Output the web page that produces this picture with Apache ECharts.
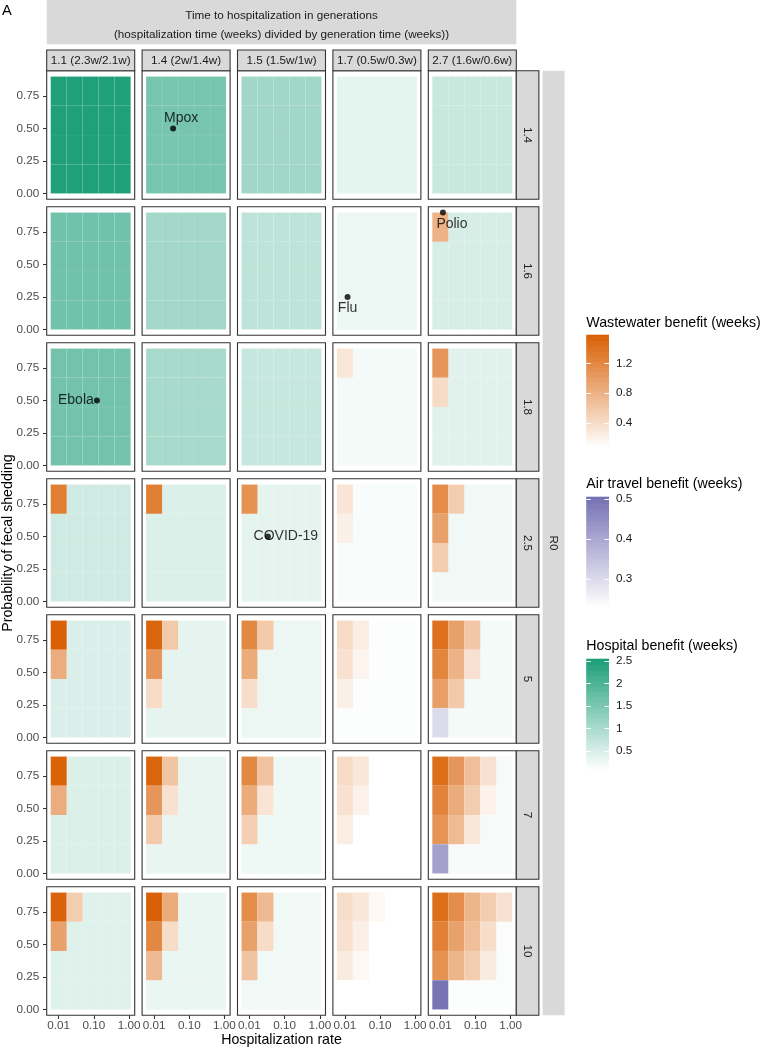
<!DOCTYPE html>
<html><head><meta charset="utf-8">
<script src="https://cdn.jsdelivr.net/npm/echarts@6/dist/echarts.min.js"></script>
<style>html,body{margin:0;padding:0;background:#fff}#c{width:762px;height:1050px}</style>
</head><body><div id="c"></div><script>
// ---------------- data ----------------
const hospRates = [0.01, 0.0285, 0.0812, 0.231, 0.658];     // x tile centres (hospitalization rate)
const shedProbs = [0.1125, 0.3375, 0.5625, 0.7875];         // y tile centres (prob. fecal shedding)
const r0Labels = ['1.4', '1.6', '1.8', '2.5', '5', '7', '10'];
const genLabels = ['1.1 (2.3w/2.1w)', '1.4 (2w/1.4w)', '1.5 (1.5w/1w)', '1.7 (0.5w/0.3w)', '2.7 (1.6w/0.6w)'];
const xTicks = [0.01, 0.1, 1];
const yTicks = [0, 0.25, 0.5, 0.75];
// hospital benefit (weeks) per panel [R0 row][generation column]
const hospitalBenefit = [
  [2.5, 1.54, 1.1, 0.37, 0.67],
  [1.62, 1.07, 0.78, 0.28, 0.51],
  [1.59, 1.02, 0.7, 0.2, 0.4],
  [0.6, 0.46, 0.35, 0.16, 0.24],
  [0.48, 0.35, 0.28, 0.11, 0.2],
  [0.46, 0.33, 0.26, 0.09, 0.18],
  [0.44, 0.31, 0.24, 0.08, 0.13]
];
// wastewater benefit cells: [row, col, rate index, shedding index, weeks]
const wastewaterBenefit = [
  [1,4,0,3,0.8],
  [2,3,0,3,0.31],[2,4,0,3,1.06],[2,4,0,2,0.42],
  [3,0,0,3,1.29],[3,1,0,3,1.29],[3,2,0,3,1.1],[3,3,0,3,0.33],[3,3,0,2,0.22],
  [3,4,0,3,1.15],[3,4,1,3,0.55],[3,4,0,2,0.96],[3,4,0,1,0.55],
  [4,0,0,3,1.57],[4,0,0,2,0.85],
  [4,1,0,3,1.52],[4,1,1,3,0.59],[4,1,0,2,1.06],[4,1,0,1,0.41],
  [4,2,0,3,1.2],[4,2,1,3,0.59],[4,2,0,2,0.87],[4,2,0,1,0.39],
  [4,3,0,3,0.42],[4,3,1,3,0.25],[4,3,0,2,0.36],[4,3,1,2,0.18],[4,3,0,1,0.22],
  [4,4,0,3,1.41],[4,4,1,3,0.97],[4,4,2,3,0.61],[4,4,0,2,1.22],[4,4,1,2,0.8],[4,4,2,2,0.36],[4,4,0,1,0.98],[4,4,1,1,0.59],
  [5,0,0,3,1.55],[5,0,0,2,0.85],
  [5,1,0,3,1.52],[5,1,1,3,0.62],[5,1,0,2,1.06],[5,1,1,2,0.36],[5,1,0,1,0.57],
  [5,2,0,3,1.2],[5,2,1,3,0.64],[5,2,0,2,0.87],[5,2,1,2,0.33],[5,2,0,1,0.53],
  [5,3,0,3,0.42],[5,3,1,3,0.3],[5,3,0,2,0.36],[5,3,1,2,0.2],[5,3,0,1,0.25],
  [5,4,0,3,1.43],[5,4,1,3,1.06],[5,4,2,3,0.69],[5,4,3,3,0.36],[5,4,0,2,1.24],[5,4,1,2,0.87],[5,4,2,2,0.55],[5,4,3,2,0.2],
  [5,4,0,1,1.08],[5,4,1,1,0.72],[5,4,2,1,0.3],
  [6,0,0,3,1.54],[6,0,1,3,0.55],[6,0,0,2,0.96],
  [6,1,0,3,1.57],[6,1,1,3,0.87],[6,1,0,2,1.2],[6,1,1,2,0.41],[6,1,0,1,0.73],
  [6,2,0,3,1.15],[6,2,1,3,0.73],[6,2,0,2,0.96],[6,2,1,2,0.41],[6,2,0,1,0.64],
  [6,3,0,3,0.39],[6,3,1,3,0.3],[6,3,2,3,0.15],[6,3,0,2,0.36],[6,3,1,2,0.22],[6,3,0,1,0.27],[6,3,1,1,0.15],
  [6,4,0,3,1.43],[6,4,1,3,1.15],[6,4,2,3,0.78],[6,4,3,3,0.55],[6,4,4,3,0.36],
  [6,4,0,2,1.26],[6,4,1,2,0.96],[6,4,2,2,0.69],[6,4,3,2,0.39],
  [6,4,0,1,1.1],[6,4,1,1,0.78],[6,4,2,1,0.55],[6,4,3,1,0.27]
];
// air travel benefit cells: [row, col, rate index, shedding index, weeks]
const airBenefit = [[4,4,0,0,0.3],[5,4,0,0,0.41],[6,4,0,0,0.5]];
// reference diseases
const diseaseNames = ['Mpox', 'Polio', 'Flu', 'Ebola', 'COVID-19'];
const diseaseRow = [0, 1, 1, 2, 3];
const diseaseCol = [1, 4, 3, 0, 2];
const diseaseRate = [0.0347, 0.0119, 0.0119, 0.122, 0.0333];
const diseaseShed = [0.5, 0.9, 0.25, 0.5, 0.5];
// legend scales
const wwRange = [0.08, 1.58], airRange = [0.23, 0.505], hospRange = [0.08, 2.54];
const wwTicks = [0.4, 0.8, 1.2], airTicks = [0.3, 0.4, 0.5], hospTicks = [0.5, 1, 1.5, 2, 2.5];

// ---------------- layout / style ----------------
const FONT = '"Liberation Sans", Arial, Helvetica, sans-serif';
const L0 = 46.7, SX = 95.4, T0 = 70.7, SY = 136, PW = 88, PH = 128.6;
const XMIN = -2.341, XMAX = 0.161, YMIN = -0.045, YMAX = 0.945;
const TILE_HW = 0.2275, TILE_HH = 0.1125;
const labelOffsets = {'Mpox':[8,-10.5], 'Polio':[9,12], 'Flu':[0,11.5], 'Ebola':[-21,0], 'COVID-19':[18,0]};

const grids = [], xAxes = [], yAxes = [], series = [];
const wwIdx = [], airIdx = [], hospIdx = [];
const key = (r,c,xi,yi) => r+'_'+c+'_'+xi+'_'+yi;
const taken = new Set();
wastewaterBenefit.forEach(d => taken.add(key(d[0],d[1],d[2],d[3])));
airBenefit.forEach(d => taken.add(key(d[0],d[1],d[2],d[3])));

function tileRender(params, api) {
  const lx = api.value(0), y = api.value(1);
  const a = api.coord([lx - TILE_HW, y + TILE_HH]);
  const b = api.coord([lx + TILE_HW, y - TILE_HH]);
  return {type:'rect', shape:{x:a[0], y:a[1], width:b[0]-a[0], height:b[1]-a[1]},
    style:{fill: api.visual('color'), stroke:'rgba(255,255,255,0.09)', lineWidth:0.6}};
}
function tileSeries(g, data) {
  return {type:'custom', xAxisIndex:g, yAxisIndex:g, renderItem:tileRender, data:data, silent:true, z:2};
}
const cellsToData = (list, r, c) => list.filter(d => d[0]===r && d[1]===c)
  .map(d => [Math.log10(hospRates[d[2]]), shedProbs[d[3]], d[4]]);

for (let r = 0; r < r0Labels.length; r++) {
  for (let c = 0; c < genLabels.length; c++) {
    const g = r*5 + c;
    grids.push({left: L0 + c*SX, top: T0 + r*SY, width: PW, height: PH, show:true,
      borderColor:'#333333', borderWidth:1.1, backgroundColor:'#ffffff'});
    xAxes.push({gridIndex:g, type:'value', min:XMIN, max:XMAX, position:'bottom',
      axisLine:{show:false, onZero:false}, splitLine:{show:false},
      axisTick:{show: r===6, customValues: xTicks.map(v => Math.log10(v)), length:3.7, lineStyle:{color:'#333333', width:1.07}},
      axisLabel:{show: r===6, customValues: xTicks.map(v => Math.log10(v)), margin:4.5,
        formatter: v => Math.pow(10, v).toFixed(2), color:'#4d4d4d', fontSize:11.7, fontFamily:FONT}});
    yAxes.push({gridIndex:g, type:'value', min:YMIN, max:YMAX, position:'left',
      axisLine:{show:false, onZero:false}, splitLine:{show:false},
      axisTick:{show: c===0, customValues: yTicks, length:3.7, lineStyle:{color:'#333333', width:1.07}},
      axisLabel:{show: c===0, customValues: yTicks, margin:7.5,
        formatter: v => v.toFixed(2), color:'#4d4d4d', fontSize:11.7, fontFamily:FONT}});
    const hospData = [];
    for (let xi = 0; xi < hospRates.length; xi++)
      for (let yi = 0; yi < shedProbs.length; yi++)
        if (!taken.has(key(r,c,xi,yi)))
          hospData.push([Math.log10(hospRates[xi]), shedProbs[yi], hospitalBenefit[r][c]]);
    hospIdx.push(series.length); series.push(tileSeries(g, hospData));
    wwIdx.push(series.length); series.push(tileSeries(g, cellsToData(wastewaterBenefit, r, c)));
    airIdx.push(series.length); series.push(tileSeries(g, cellsToData(airBenefit, r, c)));
  }
}
// disease points
diseaseNames.forEach((name, i) => {
  const g = diseaseRow[i]*5 + diseaseCol[i];
  series.push({type:'scatter', xAxisIndex:g, yAxisIndex:g, z:5, silent:true,
    symbol:'circle', symbolSize:6, itemStyle:{color:'#000000'},
    data:[[Math.log10(diseaseRate[i]), diseaseShed[i]]],
    label:{show:true, position:'inside', offset: labelOffsets[name], formatter: name,
      color:'#000000', fontSize:14, fontFamily:FONT, align:'center', verticalAlign:'middle'}});
});

// colour bars (legends) drawn as grids
const legendDefs = [
  {title:'Wastewater benefit (weeks)', range:wwRange, ticks:wwTicks, top:335, height:112, titleY:323, idx:wwIdx},
  {title:'Air travel benefit (weeks)', range:airRange, ticks:airTicks, top:497, height:110, titleY:484.5, idx:airIdx},
  {title:'Hospital benefit (weeks)', range:hospRange, ticks:hospTicks, top:659, height:111, titleY:646.5, idx:hospIdx}
];
const LEG_X = 586.3, LEG_W = 22.7;
function barRender(params, api) {
  const a = api.coord([0, api.value(3)]);
  const b = api.coord([1, api.value(1)]);
  return {type:'rect', shape:{x:a[0], y:a[1]-0.3, width:b[0]-a[0], height:b[1]-a[1]+0.6},
    style:{fill: api.visual('color')}};
}
legendDefs.forEach(L => {
  const g = grids.length;
  grids.push({left:LEG_X, top:L.top, width:LEG_W, height:L.height, show:false});
  xAxes.push({gridIndex:g, type:'value', min:0, max:1, show:false});
  const tickStyle = {show:true, inside:true, length:4.5, customValues:L.ticks, lineStyle:{color:'#ffffff', width:1}};
  yAxes.push({gridIndex:g, type:'value', min:L.range[0], max:L.range[1], position:'left', z:10,
    axisLine:{show:false, onZero:false}, splitLine:{show:false}, axisTick:tickStyle, axisLabel:{show:false}});
  yAxes.push({gridIndex:g, type:'value', min:L.range[0], max:L.range[1], position:'right', z:10,
    axisLine:{show:false, onZero:false}, splitLine:{show:false}, axisTick:tickStyle,
    axisLabel:{show:true, customValues:L.ticks, margin:7, formatter: v => String(v),
      color:'#1a1a1a', fontSize:11.7, fontFamily:FONT}});
  const N = 90, d = [];
  for (let i = 0; i < N; i++) {
    const lo = L.range[0] + (L.range[1]-L.range[0])*i/N;
    const hi = L.range[0] + (L.range[1]-L.range[0])*(i+1)/N;
    d.push([0.5, lo, (lo+hi)/2, hi]);
  }
  L.idx.push(series.length);
  series.push({type:'custom', xAxisIndex:g, yAxisIndex:yAxes.length-1, renderItem:barRender, data:d, silent:true, z:2});
});

const visualMap = [
  {type:'continuous', show:false, min:wwRange[0], max:wwRange[1], dimension:2, seriesIndex:wwIdx, inRange:{color:['#ffffff','#d95f02']}},
  {type:'continuous', show:false, min:airRange[0], max:airRange[1], dimension:2, seriesIndex:airIdx, inRange:{color:['#ffffff','#7570b3']}},
  {type:'continuous', show:false, min:hospRange[0], max:hospRange[1], dimension:2, seriesIndex:hospIdx, inRange:{color:['#ffffff','#1b9e77']}}
];

// ---------------- decorations: strips, titles ----------------
const graphic = [];
const stripFill = '#d9d9d9', stripStroke = '#333333';
graphic.push({type:'rect', shape:{x:L0, y:0, width:4*SX+PW, height:44.3}, style:{fill:stripFill}, z:0});
graphic.push({type:'text', x:L0+(4*SX+PW)/2, y:15.8, style:{text:'Time to hospitalization in generations', font:'11.7px '+FONT, fill:'#1a1a1a', textAlign:'center', textVerticalAlign:'middle'}});
graphic.push({type:'text', x:L0+(4*SX+PW)/2, y:34.4, style:{text:'(hospitalization time (weeks) divided by generation time (weeks))', font:'11.7px '+FONT, fill:'#1a1a1a', textAlign:'center', textVerticalAlign:'middle'}});
genLabels.forEach((t, c) => {
  graphic.push({type:'rect', shape:{x:L0+c*SX, y:50, width:PW, height:20.7}, style:{fill:stripFill, stroke:stripStroke, lineWidth:1.07}});
  graphic.push({type:'text', x:L0+c*SX+PW/2, y:60.4, style:{text:t, font:'11.7px '+FONT, fill:'#1a1a1a', textAlign:'center', textVerticalAlign:'middle'}});
});
const RS_X = L0 + 4*SX + PW;
r0Labels.forEach((t, r) => {
  graphic.push({type:'rect', shape:{x:RS_X, y:T0+r*SY, width:22.6, height:PH}, style:{fill:stripFill, stroke:stripStroke, lineWidth:1.07}});
  graphic.push({type:'text', x:RS_X+11.3, y:T0+r*SY+PH/2, rotation:-Math.PI/2, style:{text:t, font:'11.7px '+FONT, fill:'#1a1a1a', textAlign:'center', textVerticalAlign:'middle'}});
});
const R0_TOP = T0, R0_H = 6*SY + PH;
graphic.push({type:'rect', shape:{x:542.6, y:R0_TOP, width:22, height:R0_H}, style:{fill:stripFill}});
graphic.push({type:'text', x:553.6, y:R0_TOP+R0_H/2, rotation:-Math.PI/2, style:{text:'R0', font:'11.7px '+FONT, fill:'#1a1a1a', textAlign:'center', textVerticalAlign:'middle'}});
graphic.push({type:'text', x:2, y:11, style:{text:'A', font:'14.7px '+FONT, fill:'#000', textAlign:'left', textVerticalAlign:'middle'}});
graphic.push({type:'text', x:L0+(4*SX+PW)/2, y:1040, style:{text:'Hospitalization rate', font:'14.2px '+FONT, fill:'#000', textAlign:'center', textVerticalAlign:'middle'}});
graphic.push({type:'text', x:8.5, y:R0_TOP+R0_H/2, rotation:Math.PI/2, style:{text:'Probability of fecal shedding', font:'14.2px '+FONT, fill:'#000', textAlign:'center', textVerticalAlign:'middle'}});
legendDefs.forEach(L => {
  graphic.push({type:'text', x:LEG_X, y:L.titleY, style:{text:L.title, font:'14.2px '+FONT, fill:'#000', textAlign:'left', textVerticalAlign:'middle'}});
});

const chart = echarts.init(document.getElementById('c'), null, {renderer:'canvas'});
chart.setOption({
  animation:false,
  backgroundColor:'#ffffff',
  grid:grids, xAxis:xAxes, yAxis:yAxes, visualMap:visualMap, series:series, graphic:graphic
});
</script></body></html>
